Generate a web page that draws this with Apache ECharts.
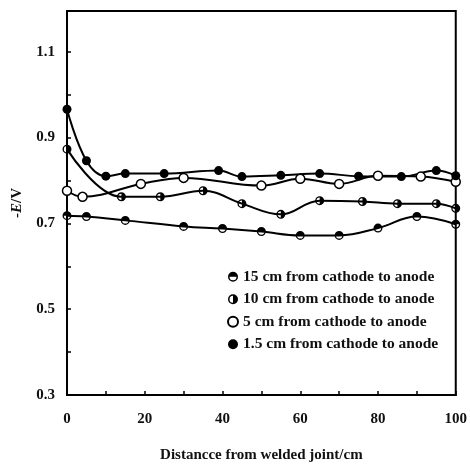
<!DOCTYPE html>
<html>
<head>
<meta charset="utf-8">
<script src="https://cdn.jsdelivr.net/npm/echarts@6/dist/echarts.min.js"></script>
<style>
  html, body { margin: 0; padding: 0; background: #fff; }
  #chart { width: 470px; height: 468px; }
</style>
</head>
<body>
<div id="chart"></div>
<script>
// distance from welded joint (cm) and -E (V) for each curve
var dist15 = [0, 5, 15, 30, 40, 50, 60, 70, 80, 90, 100];
var pot15 = [0.718, 0.716, 0.707, 0.693, 0.688, 0.681, 0.672, 0.672, 0.689, 0.716, 0.698];

var dist10 = [0, 14, 24, 35, 45, 55, 65, 76, 85, 95, 100];
var pot10 = [0.873, 0.762, 0.762, 0.776, 0.746, 0.721, 0.753, 0.751, 0.746, 0.746, 0.735];

var dist5 = [0, 4, 19, 30, 50, 60, 70, 80, 91, 100];
var pot5 = [0.776, 0.762, 0.792, 0.806, 0.788, 0.804, 0.792, 0.811, 0.809, 0.797];

var dist1 = [0, 5, 10, 15, 25, 39, 45, 55, 65, 75, 86, 95, 100];
var pot1 = [0.966, 0.846, 0.81, 0.816, 0.816, 0.823, 0.809, 0.812, 0.816, 0.81, 0.809, 0.823, 0.811];

var names = ['15 cm from cathode to anode', '10 cm from cathode to anode',
             '5 cm from cathode to anode', '1.5 cm from cathode to anode'];

var yTicks = [0.3, 0.5, 0.7, 0.9, 1.1];
var xTicks = [0, 20, 40, 60, 80, 100];

// ring with a half disk inside
var ring = 'M10,0 A10,10 0 1,1 10,20 A10,10 0 1,1 10,0 Z M10,3 A7,7 0 0,0 10,17 A7,7 0 0,0 10,3 Z ';
var topHalf = 'path://' + ring + 'M3,10 A7,7 0 0,1 17,10 Z';
var rightHalf = 'path://' + ring + 'M10,3 A7,7 0 0,1 10,17 Z';

function pairs(xs, ys) {
  return xs.map(function (x, i) { return [x, ys[i]]; });
}

var serif = 'Liberation Serif';
var chart = echarts.init(document.getElementById('chart'));

function lineSeries(name, xs, ys, symbol, itemStyle) {
  return {
    name: name,
    type: 'line',
    smooth: 0.4,
    data: pairs(xs, ys),
    symbol: symbol,
    symbolSize: 9,
    symbolKeepAspect: true,
    showAllSymbol: true,
    lineStyle: { color: '#000', width: 2 },
    itemStyle: itemStyle,
    emphasis: { disabled: true }
  };
}

var option = {
  backgroundColor: '#fff',
  animation: false,
  grid: {
    left: 67, right: 12, top: 11, bottom: 70,
    show: true, borderColor: '#000', borderWidth: 2
  },
  legend: {
    orient: 'vertical',
    left: 222,
    top: 263,
    itemWidth: 10,
    itemHeight: 10,
    itemGap: 5,
    textStyle: { fontFamily: serif, fontSize: 15.5, lineHeight: 17.5, fontWeight: 'bold', color: '#111' },
    data: [
      { name: names[0], icon: topHalf },
      { name: names[1], icon: rightHalf },
      { name: names[2], icon: 'circle' },
      { name: names[3], icon: 'circle' }
    ]
  },
  xAxis: {
    type: 'value',
    min: 0, max: 100, interval: 10,
    name: 'Distancce from welded joint/cm',
    nameLocation: 'middle',
    nameGap: 53,
    nameTextStyle: { fontFamily: serif, fontSize: 15, fontWeight: 'bold', color: '#111' },
    axisLine: { lineStyle: { color: '#000', width: 2 } },
    axisTick: { inside: true, length: 4, lineStyle: { color: '#000', width: 1.5 } },
    axisLabel: {
      margin: 17,
      fontFamily: serif, fontSize: 15, fontWeight: 'bold', color: '#111',
      formatter: function (v) { return xTicks.indexOf(v) >= 0 ? String(v) : ''; }
    },
    splitLine: { show: false }
  },
  yAxis: {
    type: 'value',
    min: 0.3, max: 1.195, interval: 0.1,
    name: '-{i|E}/V',
    nameLocation: 'middle',
    nameRotate: 90,
    nameGap: 42,
    nameTextStyle: {
      fontFamily: serif, fontSize: 15, fontWeight: 'bold', color: '#111',
      rich: { i: { fontFamily: serif, fontSize: 15, fontWeight: 'bold', fontStyle: 'italic', color: '#111' } }
    },
    axisLine: { lineStyle: { color: '#000', width: 2 } },
    axisTick: { inside: true, length: 4, lineStyle: { color: '#000', width: 1.5 } },
    axisLabel: {
      margin: 12,
      fontFamily: serif, fontSize: 15, fontWeight: 'bold', color: '#111',
      formatter: function (v) {
        for (var i = 0; i < yTicks.length; i++) {
          if (Math.abs(v - yTicks[i]) < 1e-6) return yTicks[i].toFixed(1);
        }
        return '';
      }
    },
    splitLine: { show: false }
  },
  series: [
    lineSeries(names[0], dist15, pot15, topHalf, { color: '#000' }),
    lineSeries(names[1], dist10, pot10, rightHalf, { color: '#000' }),
    lineSeries(names[2], dist5, pot5, 'circle', { color: '#fff', borderColor: '#000', borderWidth: 1.5 }),
    lineSeries(names[3], dist1, pot1, 'circle', { color: '#000' })
  ]
};

chart.setOption(option);
</script>
</body>
</html>
